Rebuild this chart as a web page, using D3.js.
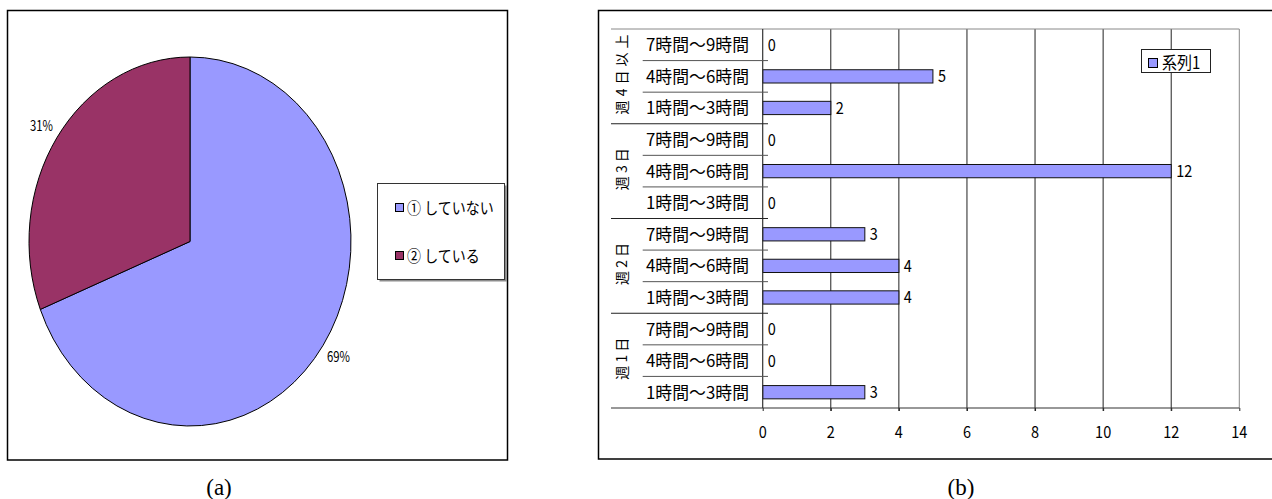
<!DOCTYPE html>
<html><head><meta charset="utf-8">
<script src="https://cdn.jsdelivr.net/npm/d3@7"></script>
<style>
body{margin:0;background:#fff;}
text{font-family:"Noto Sans CJK JP","Noto Sans",sans-serif;fill:#000;}
</style></head>
<body>
<svg id="c" width="1272" height="499"></svg>
<script>
// ---- data ----
const pieLabels = ["① していない", "② している"];
const pieValues = [69, 31];
const pieColors = ["#9999FF", "#993366"];

const groups = ["週1日", "週2日", "週3日", "週4日以上"];          // bottom → top
const timeBands = ["1時間～3時間", "4時間～6時間", "7時間～9時間"]; // bottom → top within group
const barValues = [3, 0, 0,   4, 4, 3,   0, 12, 0,   2, 5, 0];     // same order
const xTicks = [0, 2, 4, 6, 8, 10, 12, 14];
const seriesName = "系列1";

const svg = d3.select("#c");
const SY = 1.15; // vertical stretch of the reference's text
function stretch(sel){
  sel.each(function(){
    const t = d3.select(this);
    const tx = +t.attr("x")||0, ty = +t.attr("y")||0;
    t.attr("x",0).attr("y",0).attr("transform",`translate(${tx},${ty}) scale(1,${SY})`);
  });
  return sel;
}

// ---- panel frames ----
svg.append("rect").attr("x",7.5).attr("y",10.5).attr("width",500).attr("height",449.5)
  .attr("fill","none").attr("stroke","#000").attr("stroke-width",1.5);
svg.append("rect").attr("x",598.5).attr("y",10.5).attr("width",700).attr("height",448.5)
  .attr("fill","none").attr("stroke","#000").attr("stroke-width",1.5);

svg.append("text").attr("x",219).attr("y",495).attr("text-anchor","middle")
  .style("font-family","'Liberation Serif','DejaVu Serif',serif").style("font-size","23px").text("(a)");
svg.append("text").attr("x",961).attr("y",495).attr("text-anchor","middle")
  .style("font-family","'Liberation Serif','DejaVu Serif',serif").style("font-size","23px").text("(b)");

// ---- pie (a) ----
const cx = 190, cy = 241.5, R = 161, sy = 184.5/161;
const pie = d3.pie().sort(null).startAngle(0).endAngle(2*Math.PI)(pieValues);
const arc = d3.arc().innerRadius(0).outerRadius(R);
const pg = svg.append("g").attr("transform",`translate(${cx},${cy}) scale(1,${sy})`);
pg.selectAll("path").data(pie).join("path")
  .attr("d",arc).attr("fill",(d,i)=>pieColors[i])
  .attr("stroke","#000").attr("stroke-width",1).attr("vector-effect","non-scaling-stroke");
const lblArc = d3.arc().innerRadius(R*1.115).outerRadius(R*1.115);
stretch(svg.selectAll("text.pct").data(pie).join("text").attr("class","pct")
  .attr("x",d=>cx+lblArc.centroid(d)[0]-11.5)
  .attr("y",d=>cy+lblArc.centroid(d)[1]*sy+5)
  .attr("textLength",23).attr("lengthAdjust","spacingAndGlyphs")
  .style("font-size","13px")
  .text(d=>Math.round(d.data/d3.sum(pieValues)*100)+"%"));

// legend (a)
svg.append("rect").attr("x",379.5).attr("y",185.5).attr("width",127).attr("height",96)
  .attr("fill","#000").attr("opacity",0.45);
svg.append("rect").attr("x",377.5).attr("y",183.5).attr("width",127).attr("height",96)
  .attr("fill","#fff").attr("stroke","#333").attr("stroke-width",1);
pieLabels.forEach((l,i)=>{
  const y = 208 + i*48;
  svg.append("rect").attr("x",395.5).attr("y",y-4.5).attr("width",8).attr("height",8)
    .attr("fill",pieColors[i]).attr("stroke","#000").attr("stroke-width",1);
  stretch(svg.append("text").attr("x",407).attr("y",y+6).style("font-size","14px").text(l));
});

// ---- bar chart (b) ----
const rows = [];
groups.forEach((g,gi)=>timeBands.forEach((t,ti)=>rows.push({g, t, v: barValues[gi*3+ti], key: g+"|"+t})));
const topDown = rows.slice().reverse();
const x0 = 762.7, x1 = 1239.3, y0 = 29, y1 = 408;
const x = d3.scaleLinear().domain([0,14]).range([x0,x1]);
const y = d3.scaleBand().domain(topDown.map(d=>d.key)).range([y0,y1]).padding(0);
const bh = y.bandwidth()*0.42;

const bg = svg.append("g");
// gridlines
bg.selectAll("line.grid").data(xTicks.slice(1,-1)).join("line")
  .attr("x1",d=>x(d)).attr("x2",d=>x(d)).attr("y1",y0).attr("y2",y1+3)
  .attr("stroke","#222").attr("stroke-width",1);
// plot border top/right
bg.append("line").attr("x1",611).attr("x2",x1).attr("y1",y0).attr("y2",y0).attr("stroke","#888").attr("stroke-width",1);
bg.append("line").attr("x1",x1).attr("x2",x1).attr("y1",y0).attr("y2",y1).attr("stroke","#888").attr("stroke-width",1);

// x axis
const xa = bg.append("g").attr("transform",`translate(0,${y1})`)
  .call(d3.axisBottom(x).tickValues(xTicks).tickSize(3).tickFormat(""));
xa.select(".domain").remove();
xa.selectAll(".tick line").attr("stroke","#222");
stretch(bg.selectAll("text.tick").data(xTicks).join("text").attr("class","tick")
  .attr("x",d=>x(d)).attr("y",y1+30).attr("text-anchor","middle")
  .style("font-size","14.5px").text(d=>d));
bg.append("line").attr("x1",611).attr("x2",x1).attr("y1",y1).attr("y2",y1).attr("stroke","#333").attr("stroke-width",1.2);

// bars
bg.selectAll("rect.bar").data(rows).join("rect").attr("class","bar")
  .attr("x",x(0)).attr("y",d=>y(d.key)+(y.bandwidth()-bh)/2)
  .attr("width",d=>x(d.v)-x(0)).attr("height",bh)
  .attr("fill","#9999FF").attr("stroke","#111").attr("stroke-width",1)
  .attr("display",d=>d.v>0?null:"none");
stretch(bg.selectAll("text.val").data(rows).join("text").attr("class","val")
  .attr("x",d=>x(d.v)+5).attr("y",d=>y(d.key)+y.bandwidth()/2+6)
  .style("font-size","14.5px").text(d=>d.v));

// category axis line
bg.append("line").attr("x1",x0).attr("x2",x0).attr("y1",y0).attr("y2",y1).attr("stroke","#333").attr("stroke-width",1.2);

// separators
topDown.forEach((d,i)=>{
  if(i===0) return;
  const yy = y(d.key);
  const groupBreak = topDown[i-1].g !== d.g;
  bg.append("line").attr("x1",groupBreak?611:642.7).attr("x2",768).attr("y1",yy).attr("y2",yy)
    .attr("stroke",groupBreak?"#222":"#555").attr("stroke-width",1);
});
// sub-category labels
stretch(bg.selectAll("text.cat").data(topDown).join("text").attr("class","cat")
  .attr("x",646).attr("y",d=>y(d.key)+y.bandwidth()/2+6.5)
  .attr("textLength",103).attr("lengthAdjust","spacingAndGlyphs")
  .style("font-size","15px").text(d=>d.t));
// group labels
groups.forEach(g=>{
  const ks = topDown.filter(d=>d.g===g).map(d=>y(d.key));
  const mid = (d3.min(ks)+d3.max(ks)+y.bandwidth())/2;
  const t = bg.append("text").attr("transform",`translate(627,${mid-2}) rotate(-90)`)
    .attr("text-anchor","middle").style("font-size","14px").text(g);
  if(g.length>=5) t.attr("textLength",80).attr("lengthAdjust","spacing");
  else t.attr("textLength",42).attr("lengthAdjust","spacing");
});

// legend (b)
svg.append("rect").attr("x",1141.5).attr("y",49.5).attr("width",69).attr("height",23)
  .attr("fill","#fff").attr("stroke","#222").attr("stroke-width",1);
svg.append("rect").attr("x",1148.5).attr("y",58.5).attr("width",9).attr("height",9)
  .attr("fill","#9999FF").attr("stroke","#000").attr("stroke-width",1);
stretch(svg.append("text").attr("x",1162).attr("y",68.5).style("font-size","15px").text(seriesName));
</script>
</body></html>
